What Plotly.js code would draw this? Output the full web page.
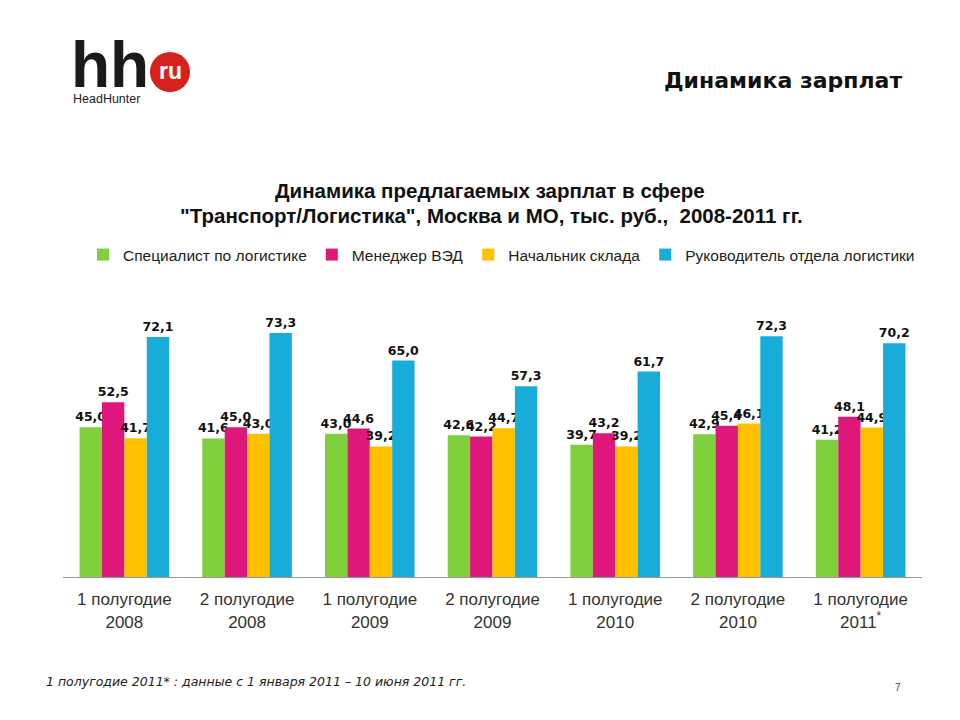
<!DOCTYPE html>
<html>
<head>
<meta charset="utf-8">
<script src="https://cdn.plot.ly/plotly-3.0.1.min.js"></script>
<style>html,body{margin:0;padding:0;background:#fff;}#chart{width:960px;height:720px;}</style>
</head>
<body>
<div id="chart"></div>
<script>
const categories = ["1 полугодие<br>2008","2 полугодие<br>2008","1 полугодие<br>2009","2 полугодие<br>2009","1 полугодие<br>2010","2 полугодие<br>2010","1 полугодие<br>2011<sup>*</sup>"];
const seriesNames = ["Специалист по логистике","Менеджер ВЭД","Начальник склада","Руководитель отдела логистики"];
const specialist = [45.0, 41.6, 43.0, 42.6, 39.7, 42.9, 41.2];
const managerVED = [52.5, 45.0, 44.6, 42.2, 43.2, 45.4, 48.1];
const warehouseHead = [41.7, 43.0, 39.2, 44.7, 39.2, 46.1, 44.9];
const logisticsHead = [72.1, 73.3, 65.0, 57.3, 61.7, 72.3, 70.2];
const colors = ["#7fd03c","#e0177b","#ffc000","#18acd9"];
const values = [specialist, managerVED, warehouseHead, logisticsHead];

const traces = values.map((v,i)=>({
  type:'bar', x:categories, y:v, name:seriesNames[i],
  marker:{color:colors[i]},
  texttemplate:'%{y:.1f}', textposition:'outside', constraintext:'none', cliponaxis:false,
  textfont:{family:'DejaVu Sans', size:12.5, color:'#111', weight:'bold'},
  hoverinfo:'skip'
}));

const px = x => (x-63)/859;
const py = y => (577-y)/287;

const layout = {
  width:960, height:720,
  paper_bgcolor:'#fff', plot_bgcolor:'#fff',
  separators:', ',
  margin:{l:63, r:38, t:290, b:143},
  barmode:'group', bargap:0.27, bargroupgap:0,
  showlegend:true,
  legend:{orientation:'h', x:px(83), xanchor:'left', yref:'container', yanchor:'middle',
    y:(720-255)/720, font:{family:'Liberation Sans, Arial', size:15.5, color:'#222'},
    itemwidth:30, tracegroupgap:0, traceorder:'normal'},
  xaxis:{showline:true, linecolor:'#999', linewidth:1, ticks:'', showgrid:false,
    tickfont:{family:'Liberation Sans, Arial', size:17, color:'#333'}, ticklabelstandoff:7},
  yaxis:{range:[0,86.2], visible:false, showgrid:false, zeroline:false},
  shapes:[
    {type:'circle', xref:'paper', yref:'paper', x0:px(150), x1:px(190),
     y0:py(92), y1:py(52), fillcolor:'#d6221f', line:{width:0}}
  ],
  annotations:[
    {text:'<b>hh</b>', xref:'paper', yref:'paper', x:px(69), y:py(27), xanchor:'left', yanchor:'top',
     showarrow:false, font:{family:'Liberation Sans, Arial', size:64, color:'#1a1a1a'}},
    {text:'<b>ru</b>', xref:'paper', yref:'paper', x:px(170), y:py(71), xanchor:'center', yanchor:'middle',
     showarrow:false, font:{family:'Liberation Sans, Arial', size:23, color:'#fff'}},
    {text:'HeadHunter', xref:'paper', yref:'paper', x:px(71), y:py(99), xanchor:'left', yanchor:'middle',
     showarrow:false, font:{family:'Liberation Sans, Arial', size:12.5, color:'#222'}},
    {text:'<b>Динамика зарплат</b>', xref:'paper', yref:'paper', x:px(904), y:py(80), xanchor:'right', yanchor:'middle',
     showarrow:false, font:{family:'DejaVu Sans', size:22, color:'#111'}},
    {text:'<b>Динамика предлагаемых зарплат в сфере</b>', xref:'paper', yref:'paper', x:px(490), y:py(190), xanchor:'center', yanchor:'middle',
     showarrow:false, font:{family:'Liberation Sans, Arial', size:20.5, color:'#111'}},
    {text:'<b>"Транспорт/Логистика", Москва и МО, тыс. руб.,  2008-2011 гг.</b>', xref:'paper', yref:'paper', x:px(491), y:py(216), xanchor:'center', yanchor:'middle',
     showarrow:false, font:{family:'Liberation Sans, Arial', size:20.5, color:'#111'}},
    {text:'<i>1 полугодие 2011* : данные с 1 января 2011 – 10 июня 2011 гг.</i>', xref:'paper', yref:'paper', x:px(44), y:py(681), xanchor:'left', yanchor:'middle',
     showarrow:false, font:{family:'DejaVu Sans', size:12.5, color:'#222'}},
    {text:'7', xref:'paper', yref:'paper', x:px(898), y:py(687), xanchor:'center', yanchor:'middle',
     showarrow:false, font:{family:'Liberation Sans, Arial', size:10, color:'#444'}}
  ]
};
Plotly.newPlot('chart', traces, layout, {staticPlot:true, displayModeBar:false});
</script>
</body>
</html>
